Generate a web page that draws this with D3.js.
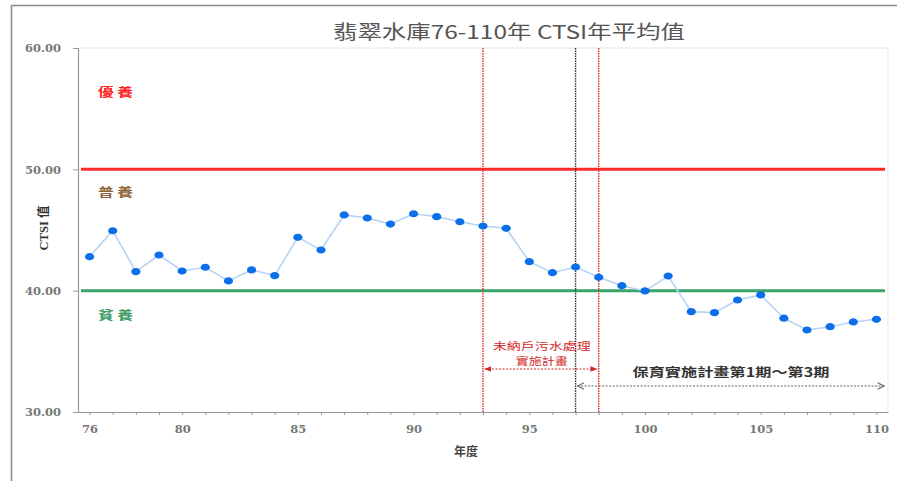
<!DOCTYPE html>
<html><head><meta charset="utf-8">
<script src="https://cdn.jsdelivr.net/npm/d3@7/dist/d3.min.js"></script>
<style>
html,body{margin:0;padding:0;background:#fff;}
svg{display:block;}
</style></head>
<body>
<svg id="chart" width="897" height="481"></svg>
<script>
// ---- data ----
const years = [76,77,78,79,80,81,82,83,84,85,86,87,88,89,90,91,92,93,94,95,96,97,98,99,100,101,102,103,104,105,106,107,108,109,110];
const ctsi  = [42.80,44.94,41.57,42.94,41.62,41.93,40.80,41.71,41.24,44.40,43.35,46.24,45.99,45.49,46.34,46.10,45.68,45.33,45.14,42.39,41.48,41.95,41.10,40.41,39.98,41.21,38.27,38.19,39.23,39.65,37.73,36.76,37.03,37.42,37.64];
const xTickLabels = [76,80,85,90,95,100,105,110];
const yTicks = [30,40,50,60];
const thresholds = [50, 40];
const zoneNames = ["優 養","普 養","貧 養"];
const zoneLevels = [56.4, 48.1, 38.0];
const markerYears = [93, 97, 98];
const title = "翡翠水庫76-110年 CTSI年平均值";
const yTitle = "CTSI 值";
const xTitle = "年度";
const plan1Lines = ["未納戶污水處理","實施計畫"];
const plan1Range = [93, 98];
const plan2Text = "保育實施計畫第1期～第3期";
const plan2Range = [97, 110.5];

// ---- layout ----
const svg = d3.select("#chart");
const L = 78, R = 888, T = 48, B = 412;
const x = d3.scaleLinear().domain([75.5, 110.5]).range([L, R]);
const y = d3.scaleLinear().domain([30, 60]).range([B, T]);
const sans = "'Noto Sans CJK TC','Noto Sans',sans-serif";
const serif = "'DejaVu Serif','Liberation Serif',serif";

// outer frame (partial)
svg.append("path").attr("d", "M11.5,481 V5.5 H897").attr("fill","none").attr("stroke","#8a8a8a").attr("stroke-width",1.5);

// plot area faint border
svg.append("path").attr("d", `M${L},${T} H${R} V${B}`).attr("fill","none").attr("stroke","#eeeeee").attr("stroke-width",1.5);

// title
svg.append("text").attr("x", 509).attr("y", 39).attr("text-anchor","middle")
  .attr("font-family", sans).attr("font-size", 19).attr("fill","#555")
  .attr("textLength", 352).attr("lengthAdjust","spacingAndGlyphs").text(title);

// axes
const yAxis = d3.axisLeft(y).tickValues(yTicks).tickFormat(d3.format(".2f")).tickSize(5).tickPadding(12);
const gy = svg.append("g").attr("transform", `translate(${L},0)`).call(yAxis);
gy.select(".domain").attr("stroke","#999").attr("stroke-width",1.2);
gy.selectAll(".tick line").attr("stroke","#999");
gy.selectAll(".tick text").attr("font-family", serif).attr("font-size", 11.5).attr("font-weight","bold").attr("fill","#777");

const xAxis = d3.axisBottom(x).tickValues(years)
  .tickFormat(d => xTickLabels.includes(d) ? d : "").tickSize(3).tickPadding(10).tickSizeOuter(0);
const gx = svg.append("g").attr("transform", `translate(0,${B})`).call(xAxis);
gx.select(".domain").attr("stroke","#999").attr("stroke-width",1.2);
gx.selectAll(".tick line").attr("stroke","#999");
gx.selectAll(".tick text").attr("font-family", serif).attr("font-size", 11.5).attr("font-weight","bold").attr("fill","#777");

// axis titles
svg.append("text").attr("transform", "translate(48,228) rotate(-90)").attr("text-anchor","middle")
  .attr("font-family", "'Liberation Serif','Noto Sans CJK TC',serif").attr("font-size", 12.5).attr("font-weight","bold").attr("fill","#333")
  .text(yTitle);
svg.append("text").attr("x", 466).attr("y", 456).attr("text-anchor","middle")
  .attr("font-family", sans).attr("font-size", 12).attr("font-weight","bold").attr("fill","#444")
  .text(xTitle);

// threshold lines
const thColors = ["#ff2b2b", "#3aa36a"];
svg.selectAll(".th").data(thresholds).enter().append("line")
  .attr("x1", L + 3).attr("x2", R - 3)
  .attr("y1", d => y(d)).attr("y2", d => y(d))
  .attr("stroke", (d,i) => thColors[i]).attr("stroke-width", 3);

// zone labels
const zoneColors = ["#ff2020", "#8b6337", "#3a9d62"];
svg.selectAll(".zone").data(zoneNames).enter().append("text")
  .attr("x", 98).attr("y", (d,i) => y(zoneLevels[i]) + 5)
  .attr("font-family", sans).attr("font-size", 12).attr("font-weight","bold")
  .attr("fill", (d,i) => zoneColors[i])
  .attr("textLength", 35).attr("lengthAdjust","spacingAndGlyphs")
  .text(d => d);

// vertical marker lines
const vColors = ["#e02828", "#333333", "#e02828"];
svg.selectAll(".vline").data(markerYears).enter().append("line")
  .attr("x1", d => x(d)).attr("x2", d => x(d)).attr("y1", T).attr("y2", B)
  .attr("stroke", (d,i) => vColors[i]).attr("stroke-width", 1.4).attr("stroke-dasharray","1.5,1");

// data line
const line = d3.line().x((d,i) => x(years[i])).y(d => y(d));
svg.append("path").datum(ctsi).attr("d", line).attr("fill","none")
  .attr("stroke","#b5d4f6").attr("stroke-width",1.6);
svg.selectAll(".pt").data(ctsi).enter().append("ellipse")
  .attr("cx", (d,i) => x(years[i])).attr("cy", d => y(d))
  .attr("rx", 4.6).attr("ry", 3.6).attr("fill","#0a6fe8");

// arrow markers
const defs = svg.append("defs");
defs.append("marker").attr("id","redArr").attr("viewBox","0 0 10 10").attr("refX",9).attr("refY",5)
  .attr("markerWidth",7).attr("markerHeight",7).attr("markerUnits","userSpaceOnUse").attr("orient","auto-start-reverse")
  .append("path").attr("d","M0,1 L10,5 L0,9 Z").attr("fill","#d42a2a");
defs.append("marker").attr("id","grayArr").attr("viewBox","0 0 10 10").attr("refX",9).attr("refY",5)
  .attr("markerWidth",8).attr("markerHeight",8).attr("markerUnits","userSpaceOnUse").attr("orient","auto-start-reverse")
  .append("path").attr("d","M1,1 L9,5 L1,9").attr("fill","none").attr("stroke","#666").attr("stroke-width",1.4);

// plan 1 (red)
svg.append("line").attr("x1", x(plan1Range[0]) + 2).attr("x2", x(plan1Range[1]) - 2).attr("y1", 369).attr("y2", 369)
  .attr("stroke","#d42a2a").attr("stroke-width",1.2).attr("stroke-dasharray","2,1.5")
  .attr("marker-start","url(#redArr)").attr("marker-end","url(#redArr)");
const p1w = [98, 52];
svg.selectAll(".p1").data(plan1Lines).enter().append("text")
  .attr("x", (x(plan1Range[0]) + x(plan1Range[1])) / 2 + 1).attr("y", (d,i) => 350 + i * 15)
  .attr("text-anchor","middle").attr("font-family", sans).attr("font-size", 10.5).attr("fill","#d42a2a")
  .attr("textLength", (d,i) => p1w[i]).attr("lengthAdjust","spacingAndGlyphs").text(d => d);

// plan 2 (gray)
svg.append("line").attr("x1", x(plan2Range[0]) + 2).attr("x2", x(plan2Range[1]) - 4).attr("y1", 386).attr("y2", 386)
  .attr("stroke","#666").attr("stroke-width",1.2).attr("stroke-dasharray","2,1.5")
  .attr("marker-start","url(#grayArr)").attr("marker-end","url(#grayArr)");
svg.append("text").attr("x", 731).attr("y", 377).attr("text-anchor","middle")
  .attr("font-family", sans).attr("font-size", 12.5).attr("font-weight","bold").attr("fill","#333")
  .attr("textLength", 197).attr("lengthAdjust","spacingAndGlyphs").text(plan2Text);
</script>
</body></html>
